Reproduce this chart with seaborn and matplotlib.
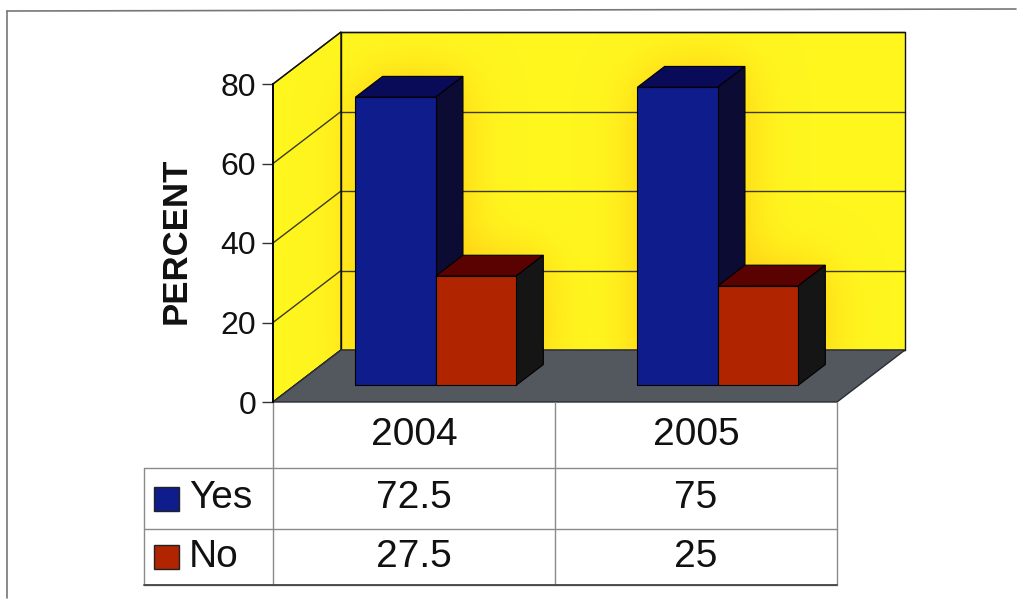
import numpy as np
import pandas as pd
import matplotlib
matplotlib.use("Agg")
import matplotlib.pyplot as plt
import seaborn as sns
from matplotlib.patches import Polygon, Rectangle
from matplotlib.path import Path
from matplotlib.transforms import Affine2D, IdentityTransform, blended_transform_factory

# ---- data -------------------------------------------------------------
years = ["2004", "2005"]
answers = ["Yes", "No"]
yes_values = [72.5, 75]
no_values = [27.5, 25]
y_ticks = [0, 20, 40, 60, 80]

# ---- styling ----------------------------------------------------------
W, H = 1023, 607
sns.set_theme(style="white")
plt.rcParams["font.family"] = ["Liberation Sans", "DejaVu Sans"]

front_colors = {"Yes": "#0f1c8c", "No": "#b02400"}
top_colors = {"Yes": "#0a0b58", "No": "#5a0202"}
side_colors = {"Yes": "#0b0b33", "No": "#151515"}
wall_yellow = np.array([1.0, 0.965, 0.12])
glow_orange = np.array([1.0, 0.80, 0.08])
floor_gray = "#53575e"
grid_color = "#3a3a22"

fig = plt.figure(figsize=(W / 100, H / 100), dpi=100)
fig.patch.set_facecolor("white")

# front plane of the plot box (pixels from top-left)
left_px, right_px, bottom_px, top_px = 273, 837, 402, 84
ax = fig.add_axes([left_px / W, (H - bottom_px) / H,
                   (right_px - left_px) / W, (bottom_px - top_px) / H])
ax.set_facecolor("none")
bg = fig.add_axes([0, 0, 1, 1], zorder=-1)
bg.set_xlim(0, W)
bg.set_ylim(0, H)
bg.axis("off")

# ---- bars (front faces) -------------------------------------------------
df = pd.DataFrame({
    "year": years * 2,
    "answer": ["Yes"] * len(years) + ["No"] * len(years),
    "percent": yes_values + no_values,
})
sns.barplot(data=df, x="year", y="percent", hue="answer", hue_order=answers,
            palette=front_colors, width=0.57, gap=0, saturation=1,
            edgecolor="black", linewidth=0.8, legend=False, ax=ax)
ax.set_xlim(-0.5, 1.5)
ax.set_ylim(0, 80)

# depth direction of the 3-D box, in pixels, and depth slot of the bars
DX, DY = 68.0, 52.0
d_front, d_back = 0.32, 0.72


def to_px(x, y, depth):
    X, Y = ax.transData.transform((x, y))
    return (X + depth * DX, Y + depth * DY)


yes_rgb = np.array(matplotlib.colors.to_rgb(front_colors["Yes"]))
bars = sorted(ax.patches, key=lambda p: p.get_x())
bar_info = []
for p in bars:
    fc = np.array(p.get_facecolor()[:3])
    kind = "Yes" if np.allclose(fc, yes_rgb, atol=0.02) else "No"
    bar_info.append((p, kind))

# silhouettes of the bars for the warm glow on the walls
silhouettes = []
for p, kind in bar_info:
    x0, x1, h = p.get_x(), p.get_x() + p.get_width(), p.get_height()
    silhouettes.append([to_px(x0, 0, d_front), to_px(x1, 0, d_front),
                        to_px(x1, 0, d_back), to_px(x1, h, d_back),
                        to_px(x0, h, d_back), to_px(x0, h, d_front)])

# ---- walls with glow ------------------------------------------------------
back_wall = [to_px(-0.5, 0, 1), to_px(1.5, 0, 1), to_px(1.5, 80, 1), to_px(-0.5, 80, 1)]
left_wall = [to_px(-0.5, 0, 0), to_px(-0.5, 0, 1), to_px(-0.5, 80, 1), to_px(-0.5, 80, 0)]

xs = np.arange(W) + 0.5
ys = H - (np.arange(H) + 0.5)
gx, gy = np.meshgrid(xs, ys)
pts = np.column_stack([gx.ravel(), gy.ravel()])
wall_mask = (Path(back_wall).contains_points(pts) |
             Path(left_wall).contains_points(pts)).reshape(H, W)
bar_mask = np.zeros(H * W, dtype=bool)
for s in silhouettes:
    bar_mask |= Path(s).contains_points(pts)
bar_mask = bar_mask.reshape(H, W).astype(float)


def blur(a, sigma):
    r = int(3 * sigma)
    k = np.exp(-0.5 * (np.arange(-r, r + 1) / sigma) ** 2)
    k /= k.sum()
    a = np.apply_along_axis(lambda v: np.convolve(v, k, mode="same"), 1, a)
    a = np.apply_along_axis(lambda v: np.convolve(v, k, mode="same"), 0, a)
    return a


glow = np.clip(blur(bar_mask, 24) * 1.5, 0, 1) * 0.7
img = np.zeros((H, W, 4))
img[..., :3] = wall_yellow * (1 - glow[..., None]) + glow_orange * glow[..., None]
img[..., 3] = wall_mask
bg.imshow(img, extent=(0, W, 0, H), origin="upper", interpolation="nearest",
          zorder=1, aspect="auto")

for t in y_ticks:
    a, b = to_px(-0.5, t, 1), to_px(1.5, t, 1)
    bg.plot([a[0], b[0]], [a[1], b[1]], color=grid_color, lw=1.0, zorder=2)
    c = to_px(-0.5, t, 0)
    bg.plot([c[0], a[0]], [c[1], a[1]], color=grid_color, lw=1.0, zorder=2)

bg.add_patch(Polygon(back_wall, closed=True, fill=False, edgecolor="#111111", lw=1.0, zorder=3))
bg.add_patch(Polygon(left_wall, closed=True, fill=False, edgecolor="#111111", lw=1.0, zorder=3))

floor = [to_px(-0.5, 0, 0), to_px(1.5, 0, 0), to_px(1.5, 0, 1), to_px(-0.5, 0, 1)]
bg.add_patch(Polygon(floor, closed=True, facecolor=floor_gray, edgecolor="#2a2d33",
                     lw=1.0, zorder=4))

# ---- bars: shift front faces into their depth slot, add top & side faces
shift = Affine2D().translate(d_front * DX, d_front * DY)
for i, (p, kind) in enumerate(bar_info):
    x0, x1, h = p.get_x(), p.get_x() + p.get_width(), p.get_height()
    p.set_transform(ax.transData + shift)
    p.set_clip_on(False)
    p.set_zorder(10 + 3 * i + 2)
    top = [to_px(x0, h, d_front), to_px(x1, h, d_front), to_px(x1, h, d_back), to_px(x0, h, d_back)]
    side = [to_px(x1, 0, d_front), to_px(x1, 0, d_back), to_px(x1, h, d_back), to_px(x1, h, d_front)]
    for poly, col in ((top, top_colors[kind]), (side, side_colors[kind])):
        ax.add_patch(Polygon(poly, closed=True, facecolor=col, edgecolor="black", lw=0.8,
                             transform=IdentityTransform(), clip_on=False, zorder=10 + 3 * i))

# ---- value axis -----------------------------------------------------------
for s in ("top", "right", "bottom"):
    ax.spines[s].set_visible(False)
ax.spines["left"].set_color("black")
ax.spines["left"].set_linewidth(1.3)
ax.spines["left"].set_zorder(30)
ax.set_yticks(y_ticks)
ax.set_yticklabels([str(t) for t in y_ticks])
ax.tick_params(axis="y", left=True, direction="out", length=8, width=1,
               color="#333333", labelsize=23, pad=4, labelcolor="#111111")
ax.set_xticks([])
ax.set_xlabel("")
ax.set_ylabel("")
fig.text(176 / W, 1 - 241 / H, "PERCENT", rotation=90, ha="center", va="center",
         fontsize=25, fontweight="bold", color="#111111")

# ---- data table under the plot -------------------------------------------
def py(v):
    return H - v  # pixel row -> bg coordinate


row_lines = [468, 529, 585]
table_top, label_left = 402, 144
col_edges = [ax.transData.transform((x, 0))[0] for x in (-0.5, 0.5, 1.5)]
line_kw = dict(color="#8a8a8a", lw=1.0, zorder=5)
for xe in col_edges:
    bg.plot([xe, xe], [py(table_top), py(row_lines[-1])], **line_kw)
bg.plot([label_left, label_left], [py(row_lines[0]), py(row_lines[-1])], **line_kw)
for r in row_lines:
    bg.plot([label_left, col_edges[-1]], [py(r), py(r)], **line_kw)
bg.plot([label_left, col_edges[-1]], [py(row_lines[-1]), py(row_lines[-1])],
        color="#444444", lw=1.3, zorder=5)

blend = blended_transform_factory(ax.transData, IdentityTransform())
row_centers = [(table_top + row_lines[0]) / 2, (row_lines[0] + row_lines[1]) / 2,
               (row_lines[1] + row_lines[2]) / 2]
txt_kw = dict(ha="center", va="center", fontsize=28, color="#111111", transform=blend)
for i, yr in enumerate(years):
    ax.text(i, py(row_centers[0]), yr, **txt_kw)
    ax.text(i, py(row_centers[1]), f"{yes_values[i]:g}", **txt_kw)
    ax.text(i, py(row_centers[2]), f"{no_values[i]:g}", **txt_kw)

for j, ans in enumerate(answers):
    yc = row_centers[1 + j]
    bg.add_patch(Rectangle((154, py(yc) - 12), 25, 24, facecolor=front_colors[ans],
                           edgecolor="#222222", lw=1.0, zorder=6))
    bg.text(189, py(yc), ans, ha="left", va="center", fontsize=28, color="#111111", zorder=6)

# ---- outer chart frame ------------------------------------------------------
bg.plot([7, 1016], [py(11), py(9)], color="#777777", lw=1.2, zorder=5)
bg.plot([7, 7], [py(11), py(598)], color="#777777", lw=1.2, zorder=5)

fig.savefig("out.png", dpi=100)
